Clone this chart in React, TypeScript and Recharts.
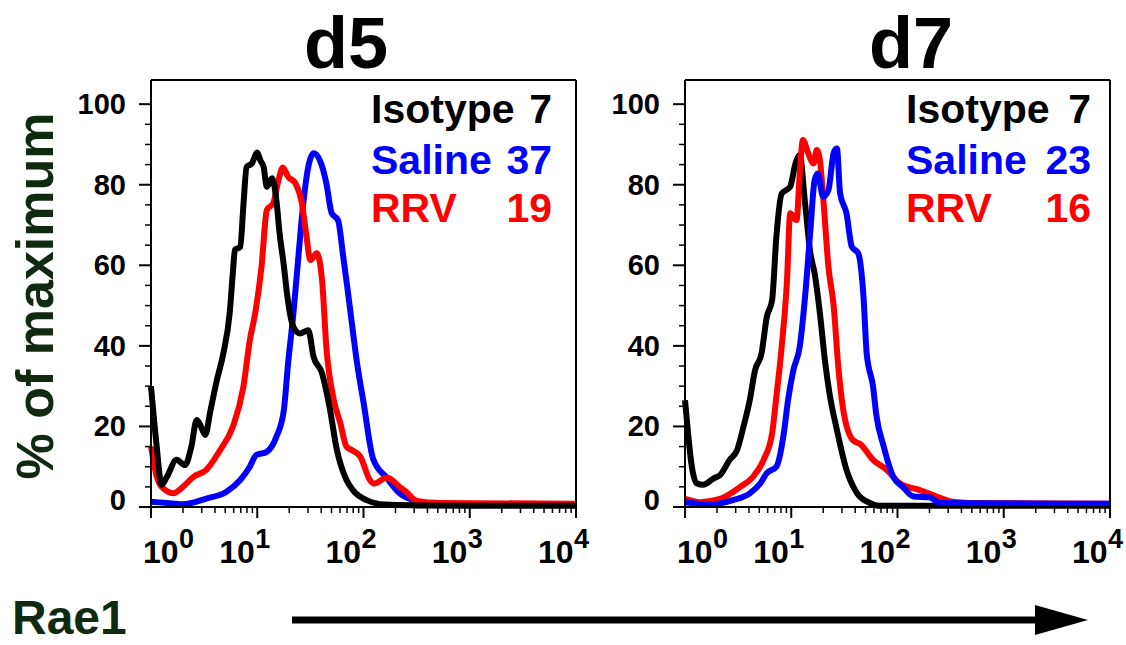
import React from "react";
import { LineChart, Line, XAxis, YAxis, ReferenceLine } from "recharts";

// channel positions are read in decades (10^e), values are % of maximum
const d5Isotype: [number, number][] = [
  [0, 30], [0.05, 16], [0.1, 5.5], [0.15, 7.5], [0.24, 11.7], [0.32, 10.4], [0.38, 15],
  [0.43, 21.6], [0.47, 20], [0.51, 17.9], [0.56, 24], [0.62, 31.5], [0.68, 38], [0.74, 48],
  [0.77, 58], [0.79, 63.8], [0.84, 64.6], [0.87, 75], [0.9, 84.4], [0.95, 85.3], [1.0, 88],
  [1.03, 86], [1.06, 84.4], [1.09, 79.5], [1.14, 81.6], [1.18, 76.2], [1.21, 68], [1.25, 60],
  [1.28, 53], [1.34, 44.7], [1.4, 43.1], [1.48, 43.9], [1.53, 37.3], [1.61, 33.2], [1.68, 24.9],
  [1.75, 14.1], [1.84, 6.7], [1.9, 4.2], [2.03, 1.7], [2.2, 0.6], [2.5, 0.4], [3, 0.3], [4, 0.3],
];
const d5Saline: [number, number][] = [
  [0, 1.3], [0.15, 1], [0.3, 0.7], [0.52, 2.1], [0.71, 3.8], [0.84, 6.7], [0.93, 10],
  [0.99, 12.9], [1.09, 13.7], [1.18, 17.4], [1.25, 24], [1.29, 35.6], [1.34, 48], [1.39, 63],
  [1.43, 74.5], [1.48, 84.4], [1.53, 87.8], [1.59, 86], [1.65, 80.4], [1.7, 73], [1.76, 71.2],
  [1.81, 62], [1.86, 52], [1.94, 35.6], [2.0, 26], [2.09, 12], [2.22, 7.2], [2.34, 3.4],
  [2.47, 1.7], [2.7, 0.5], [4, 0.5],
];
const d5RRV: [number, number][] = [
  [0, 15], [0.05, 8], [0.1, 5], [0.21, 3.4], [0.3, 5], [0.4, 7.5], [0.52, 9.2], [0.65, 14.1],
  [0.77, 19.9], [0.87, 29.9], [0.93, 41.4], [0.98, 48], [1.04, 59.6], [1.09, 73.7], [1.15, 75.4],
  [1.2, 81.1], [1.24, 84.3], [1.29, 82], [1.36, 80.3], [1.42, 75.4], [1.46, 67.9], [1.5, 61.3],
  [1.56, 63], [1.61, 56.3], [1.65, 39.8], [1.72, 26.6], [1.78, 21], [1.84, 15], [1.9, 14],
  [1.97, 12.5], [2.06, 6.7], [2.1, 5.8], [2.22, 7.3], [2.34, 5], [2.4, 3.8], [2.5, 1.5],
  [2.72, 1], [4, 0.8],
];
const d7Isotype: [number, number][] = [
  [0, 26.5], [0.03, 18], [0.06, 10.8], [0.11, 5.9], [0.17, 5.5], [0.27, 7.1], [0.33, 7.9],
  [0.42, 11.7], [0.49, 14.1], [0.55, 19.9], [0.61, 26.6], [0.66, 34], [0.72, 38.1], [0.77, 47.2],
  [0.82, 51.4], [0.86, 67.1], [0.91, 77.8], [0.99, 79.5], [1.04, 85.3], [1.08, 87.3], [1.13, 75.4],
  [1.18, 63], [1.22, 58], [1.27, 48], [1.32, 35.7], [1.36, 28.2], [1.43, 19.1], [1.52, 9.2],
  [1.62, 3.4], [1.74, 1], [1.83, 0.3], [4, 0.3],
];
const d7Saline: [number, number][] = [
  [0, 1.2], [0.24, 0.6], [0.45, 1.7], [0.61, 3.4], [0.71, 5.9], [0.77, 8.4], [0.86, 10],
  [0.93, 18.3], [0.97, 26.6], [1.02, 34], [1.08, 39.8], [1.13, 52.2], [1.18, 68.7], [1.22, 81.1],
  [1.25, 82.8], [1.3, 77], [1.35, 78.7], [1.4, 88], [1.43, 89], [1.46, 77.8], [1.52, 72.9],
  [1.57, 64.6], [1.63, 63], [1.68, 52.2], [1.71, 38.1], [1.77, 29.9], [1.8, 23], [1.87, 15],
  [1.96, 7.5], [2.05, 5], [2.15, 2.6], [2.3, 2.4], [2.4, 1], [4, 0.8],
];
const d7RRV: [number, number][] = [
  [0, 2], [0.14, 1.2], [0.33, 2], [0.52, 5], [0.64, 7.5], [0.74, 11.7], [0.82, 18.3],
  [0.86, 27.4], [0.91, 39.8], [0.96, 56.3], [0.99, 72.9], [1.05, 71.2], [1.08, 82.8], [1.11, 91.1],
  [1.16, 87.8], [1.21, 85.3], [1.24, 88.6], [1.27, 86.1], [1.3, 77], [1.35, 59.6], [1.4, 49.7],
  [1.44, 35.7], [1.49, 24], [1.58, 16.6], [1.65, 15.6], [1.77, 11.7], [1.9, 9.2], [2.02, 5.9],
  [2.21, 4.2], [2.37, 2.6], [2.52, 1.3], [2.68, 1], [4, 0.8],
];

const legendNames = ["Isotype", "Saline", "RRV"];
const d5Counts = [7, 37, 19];
const d7Counts = [7, 23, 16];
const seriesColors = ["#000000", "#0000ff", "#ff0000"];

const majorX = [1, 10, 100, 1000, 10000];
const xTicks = [
  1, 2, 3, 4, 5, 6, 7, 8, 9, 10, 20, 30, 40, 50, 60, 70, 80, 90, 100, 200, 300, 400, 500, 600,
  700, 800, 900, 1000, 2000, 3000, 4000, 5000, 6000, 7000, 8000, 9000, 10000,
];
const yTicks = [0, 5, 10, 15, 20, 25, 30, 35, 40, 45, 50, 55, 60, 65, 70, 75, 80, 85, 90, 95, 100];

const FONT = "'Liberation Sans', Arial, Helvetica, sans-serif";
const DARK_GREEN = "#102a12";

const toRows = (pts: [number, number][]) => pts.map(([e, v]) => ({ x: 10 ** e, y: v }));

function XTick(props: any) {
  const { x, y, payload } = props;
  const v = payload.value;
  const major = majorX.includes(v);
  if (!major) {
    return <line x1={x} x2={x} y1={y} y2={y + 6} stroke="#000" strokeWidth={1.5} />;
  }
  const exp = majorX.indexOf(v);
  const start = x + (exp === 0 ? 17 : -13) - 25;
  return (
    <g>
      <line x1={x} x2={x} y1={y} y2={y + 11} stroke="#000" strokeWidth={2} />
      <text x={start} y={y + 56} fontFamily={FONT} fontWeight="bold" fontSize={32} fill="#000">
        10
      </text>
      <text x={start + 36} y={y + 41} fontFamily={FONT} fontWeight="bold" fontSize={27} fill="#000">
        {exp}
      </text>
    </g>
  );
}

function YTick(props: any) {
  const { x, y, payload } = props;
  const v = payload.value;
  const major = v % 20 === 0;
  if (!major) {
    return <line x1={x - 6} x2={x} y1={y} y2={y} stroke="#000" strokeWidth={1.5} />;
  }
  return (
    <g>
      <line x1={x - 12} x2={x} y1={y} y2={y} stroke="#000" strokeWidth={2} />
      <text
        x={x - 25}
        y={y + (v === 0 ? 3 : 10)}
        textAnchor="end"
        fontFamily={FONT}
        fontWeight="bold"
        fontSize={29}
        fill="#000"
      >
        {v}
      </text>
    </g>
  );
}

function Panel({ left, series }: { left: number; series: { pts: [number, number][]; color: string }[] }) {
  return (
    <div style={{ position: "absolute", left, top: 0 }}>
      <LineChart width={600} height={645} margin={{ top: 80, right: 24, bottom: 68, left: 0 }}>
        <XAxis
          type="number"
          dataKey="x"
          scale="log"
          domain={[1, 10000]}
          ticks={xTicks}
          interval={0}
          height={70}
          tickSize={0}
          tickMargin={0}
          tick={<XTick />}
          axisLine={{ stroke: "#000", strokeWidth: 2 }}
        />
        <YAxis
          type="number"
          domain={[0, 106]}
          ticks={yTicks}
          interval={0}
          width={151}
          tickSize={0}
          tickMargin={0}
          tick={<YTick />}
          axisLine={{ stroke: "#000", strokeWidth: 2 }}
        />
        <ReferenceLine y={106} stroke="#000" strokeWidth={2} />
        <ReferenceLine x={10000} stroke="#000" strokeWidth={2} />
        {series.map((s, i) => (
          <Line
            key={i}
            data={toRows(s.pts)}
            dataKey="y"
            type="monotone"
            stroke={s.color}
            strokeWidth={6}
            dot={false}
            isAnimationActive={false}
            strokeLinejoin="round"
          />
        ))}
      </LineChart>
    </div>
  );
}

function Legend({ labelX, numX, counts }: { labelX: number; numX: number; counts: number[] }) {
  const baselines = [123, 174, 222];
  return (
    <g fontFamily={FONT} fontWeight="bold" fontSize={41}>
      {legendNames.map((name, i) => (
        <g key={name} fill={seriesColors[i]}>
          <text x={labelX} y={baselines[i]}>{name}</text>
          <text x={numX} y={baselines[i]} textAnchor="end">{counts[i]}</text>
        </g>
      ))}
    </g>
  );
}

export default function App() {
  return (
    <div style={{ position: "absolute", left: 0, top: 0, width: 1126, height: 645, background: "#fff" }}>
      <Panel
        left={0}
        series={[
          { pts: d5Saline, color: seriesColors[1] },
          { pts: d5RRV, color: seriesColors[2] },
          { pts: d5Isotype, color: seriesColors[0] },
        ]}
      />
      <Panel
        left={534}
        series={[
          { pts: d7Isotype, color: seriesColors[0] },
          { pts: d7RRV, color: seriesColors[2] },
          { pts: d7Saline, color: seriesColors[1] },
        ]}
      />
      <svg
        width={1126}
        height={645}
        style={{ position: "absolute", left: 0, top: 0, pointerEvents: "none" }}
      >
        <g fontFamily={FONT} fontWeight="bold" fontSize={72} fill="#000" textAnchor="middle">
          <text x={346} y={68}>d5</text>
          <text x={911} y={68}>d7</text>
        </g>
        <Legend labelX={371} numX={552} counts={d5Counts} />
        <Legend labelX={906} numX={1091} counts={d7Counts} />
        <text
          transform="translate(53,296) rotate(-90)"
          textAnchor="middle"
          fontFamily={FONT}
          fontWeight="bold"
          fontSize={52}
          fill={DARK_GREEN}
        >
          % of maximum
        </text>
        <text x={12} y={634} fontFamily={FONT} fontWeight="bold" fontSize={48} fill={DARK_GREEN}>
          Rae1
        </text>
        <line x1={292} x2={1040} y1={620} y2={620} stroke="#000" strokeWidth={7} />
        <polygon points="1035,605 1088,620 1035,635" fill="#000" />
      </svg>
    </div>
  );
}
